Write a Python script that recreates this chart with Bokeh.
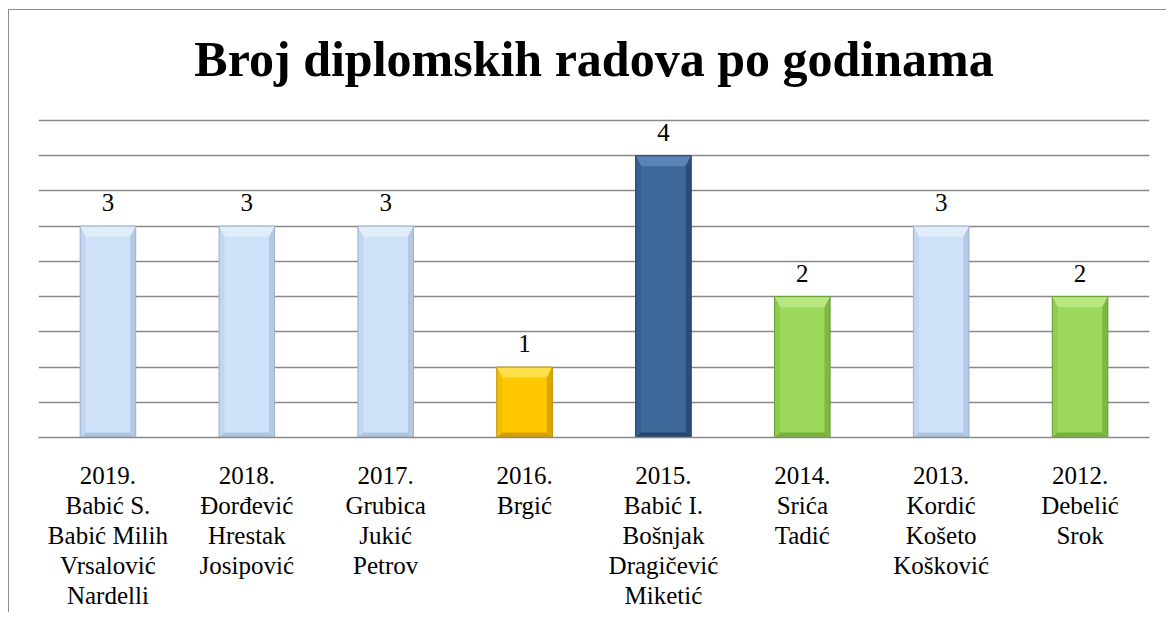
from bokeh.plotting import figure
from bokeh.models import Range1d, FixedTicker, SingleIntervalTicker, ColumnDataSource
from bokeh.embed import file_html
from bokeh.resources import INLINE
from bokeh.core.properties import value

# ---- data ----
years = ["2019.", "2018.", "2017.", "2016.", "2015.", "2014.", "2013.", "2012."]
authors = [
    ["Babić S.", "Babić Milih", "Vrsalović", "Nardelli"],
    ["Đorđević", "Hrestak", "Josipović"],
    ["Grubica", "Jukić", "Petrov"],
    ["Brgić"],
    ["Babić I.", "Bošnjak", "Dragičević", "Miketić"],
    ["Srića", "Tadić"],
    ["Kordić", "Košeto", "Košković"],
    ["Debelić", "Srok"],
]
counts = [3, 3, 3, 1, 4, 2, 3, 2]
title_text = "Broj diplomskih radova po godinama"

# ---- styles ----
color_group = ["light", "light", "light", "yellow", "dark", "green", "light", "green"]
shades = {
    "light":  dict(face="#CFE2FA", top="#E2EDFC", left="#C2D6F1", right="#B2C8E5", bottom="#AEC4E0", line="#9DB1CA"),
    "yellow": dict(face="#FFC800", top="#FFE04A", left="#F5BF00", right="#DDA600", bottom="#D29E00", line="#B88E00"),
    "dark":   dict(face="#3D6899", top="#5A84B6", left="#375F8D", right="#2A4C75", bottom="#27466C", line="#22406A"),
    "green":  dict(face="#9CD85A", top="#B6E780", left="#90CC4E", right="#7DB842", bottom="#78B23D", line="#679B35"),
}
FONT = "Liberation Serif"

# ---- layout ----
W, H = 1158, 603
top_border, bottom_border = 20, 176
frame_px = H - top_border - bottom_border      # height of the plot frame
axis_px = 317                                   # pixels used by the value axis 0..4.5
y_max = 4.5
y_top = y_max * frame_px / axis_px              # extra room above for the title
x_lo, x_hi = -0.5, len(years) - 0.5

p = figure(width=W, height=H, output_backend="svg", toolbar_location=None,
           x_range=Range1d(x_lo, x_hi), y_range=Range1d(0, y_top),
           y_axis_location=None,
           min_border_left=29, min_border_right=18,
           min_border_top=top_border, min_border_bottom=bottom_border)
p.styles = {"border-left": "1px solid #8c8c8c", "border-top": "1px solid #8c8c8c",
            "position": "relative", "left": "8px", "top": "9px"}
p.outline_line_color = None
p.background_fill_color = "white"
p.border_fill_color = "white"

p.xgrid.visible = False
p.ygrid.ticker = SingleIntervalTicker(interval=0.5)
p.ygrid.bounds = (0, y_max)
p.ygrid.grid_line_color = "#898989"
p.ygrid.grid_line_width = 1.3

xs = list(range(len(years)))
ax = p.xaxis[0]
ax.ticker = FixedTicker(ticks=xs)
ax.major_label_overrides = {i: "\n".join([years[i]] + authors[i]) for i in xs}
ax.major_tick_line_color = None
ax.minor_tick_line_color = None
ax.axis_line_color = "#898989"
ax.axis_line_width = 1.3
ax.major_label_text_font = FONT
ax.major_label_text_font_size = "25px"
ax.major_label_text_color = "black"
ax.major_label_text_line_height = 1.12
ax.major_label_standoff = 18

# ---- title (centred over the plot area) ----
p.text(x=[(x_lo + x_hi) / 2], y=[y_max], text=[title_text], y_offset=-62,
       text_align="center", text_baseline="alphabetic",
       text_font=value(FONT), text_font_size="50px", text_font_style="bold",
       text_color="black")

# ---- bars with bevel ----
hw = 0.2      # half bar width (category units)
bx = 0.04     # side bevel in x
byt = 0.15    # top bevel in y
byb = 0.07    # bottom bevel in y
for i, (x, v) in enumerate(zip(xs, counts)):
    s = shades[color_group[i]]
    l, r = x - hw, x + hw
    p.quad(left=[l], right=[r], bottom=[0], top=[v], fill_color=s["face"], line_color=None)
    p.patch([l, r, r - bx, l + bx], [v, v, v - byt, v - byt], fill_color=s["top"], line_color=None)
    p.patch([l, l + bx, l + bx, l], [v, v - byt, byb, 0], fill_color=s["left"], line_color=None)
    p.patch([r, r - bx, r - bx, r], [v, v - byt, byb, 0], fill_color=s["right"], line_color=None)
    p.patch([l, l + bx, r - bx, r], [0, byb, byb, 0], fill_color=s["bottom"], line_color=None)
    p.quad(left=[l], right=[r], bottom=[0], top=[v], fill_color=None, line_color=s["line"], line_width=1)

src = ColumnDataSource(dict(x=xs, y=counts, t=[str(c) for c in counts]))
p.text(x="x", y="y", text="t", source=src, text_align="center", text_baseline="bottom",
       y_offset=-15, text_font=value(FONT), text_font_size="25px", text_color="black")

open("out.html", "w").write(file_html(p, INLINE))
